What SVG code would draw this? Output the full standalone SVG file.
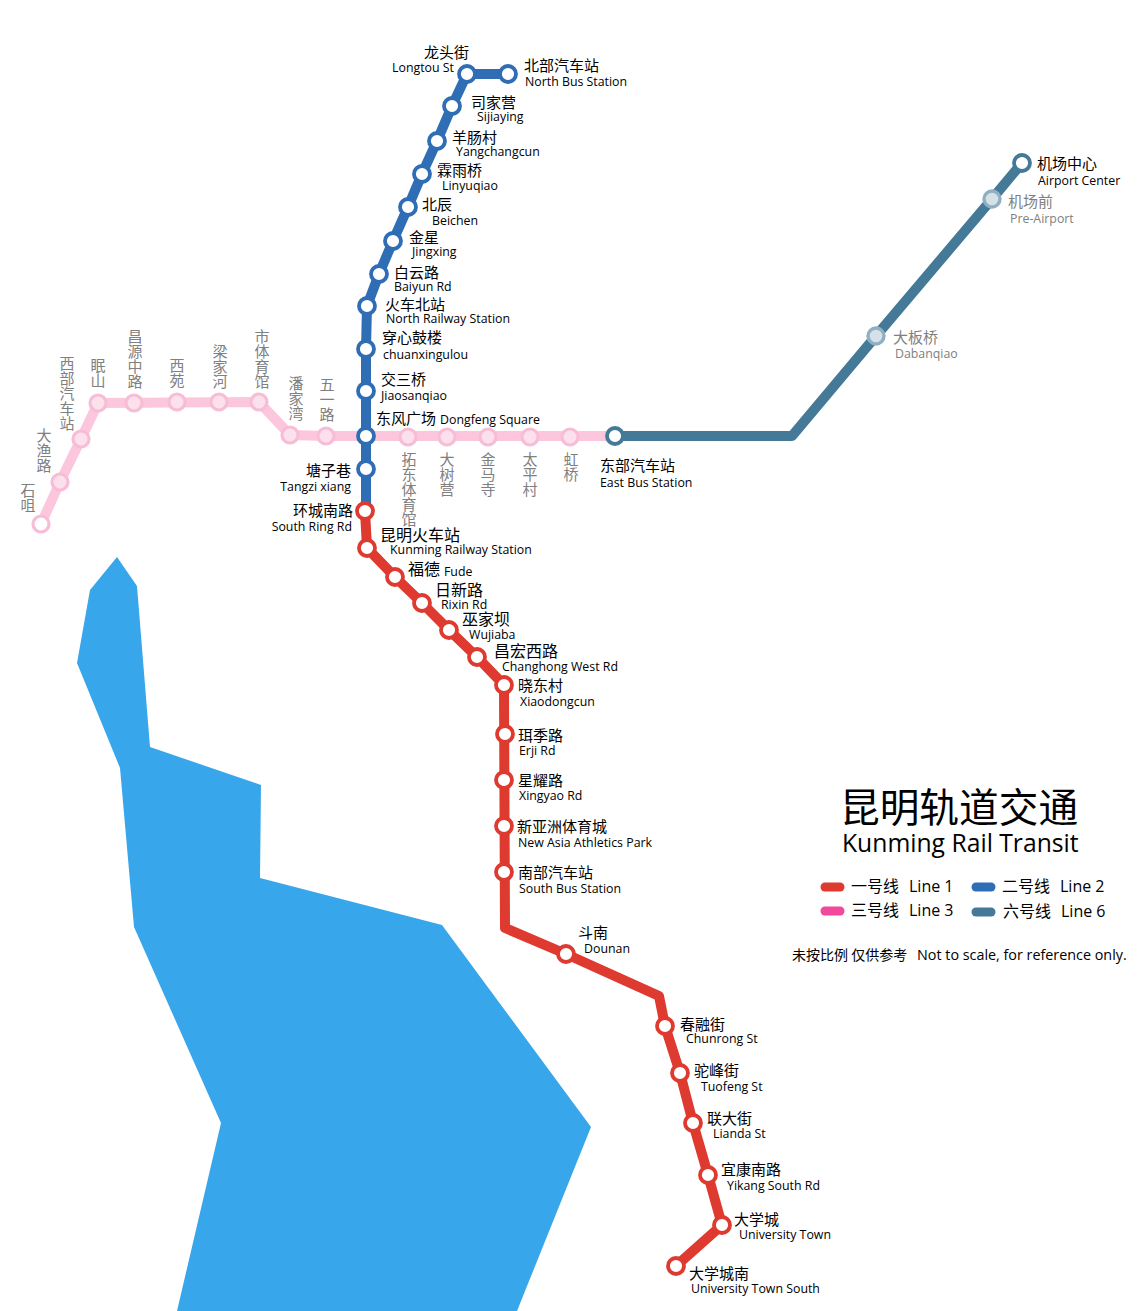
<svg xmlns="http://www.w3.org/2000/svg" width="1146" height="1311" viewBox="0 0 1146 1311">
<style>
text{fill:#000;font-family:"Open Sans","Noto Sans",sans-serif;font-size:12.35px}
.c{font-family:"Noto Sans CJK SC",sans-serif;font-size:15px}
.w{font-size:16px}
.g{fill:#808080}
.v{font-family:"Noto Sans CJK SC",sans-serif;font-size:15px;fill:#808080;writing-mode:vertical-rl;letter-spacing:0}
.l{fill:none;stroke-width:10;stroke-linejoin:round}
.r{fill:#fff;stroke-width:3.8}
.b{stroke:#2f6db5}.d{stroke:#de3a2f}.t{stroke:#447a97}.p{stroke:#fcc6dc}
.rp{fill:#fce1ec;stroke:#f8bdd6;stroke-width:3.2}
.rt{fill:#d5e1e7;stroke:#8fb0c2;stroke-width:3.4}
.k{stroke-width:9;stroke-linecap:round}
.e{text-anchor:end}
.n{font-size:16px}
</style>
<rect width="1146" height="1311" fill="#fff"/>
<polygon id="lake" fill="#38a6eb" points="117,557 137,586 150,747 261,785 260,878 442,925 591,1127 517,1311 177,1311 221,1123 134,927 120,768 77,663 90,590"/>
<g id="connectors">
<polyline class="l p" points="41,524 60,482 81,439 98,403 259,402 290,435 326,436 615,436"/>
<polyline class="l t" points="615,436 792,436 876,336 992,199 1022,163"/>
<polyline class="l b" points="508,74 467,74 452,106 437,141 422,174 408,207 393,241 379,274 367,306 366,349 366,510"/>
<polyline class="l d" points="365,511 367,548 395,577 422,603 449,630 477,657 504,685 505,928 566,954 659,996 665,1026 680,1073 693,1123 708,1175 722,1225 676,1266"/>
</g>
<g id="line3-stations">
<g id="n-shiju"><circle class="rp" style="fill:#fff" cx="41" cy="524" r="8"/><text class="v" x="28" y="483">石咀</text></g>
<g id="n-dayulu"><circle class="rp" cx="60" cy="482" r="8"/><text class="v" x="44" y="428">大渔路</text></g>
<g id="n-xibu"><circle class="rp" cx="81" cy="439" r="8"/><text class="v" x="67" y="356">西部汽车站</text></g>
<g id="n-mianshan"><circle class="rp" cx="98" cy="403" r="8"/><text class="v" x="98" y="358">眠山</text></g>
<g id="n-changyuan"><circle class="rp" cx="134" cy="403" r="8"/><text class="v" x="135" y="329">昌源中路</text></g>
<g id="n-xiyuan"><circle class="rp" cx="177" cy="402" r="8"/><text class="v" x="177" y="358">西苑</text></g>
<g id="n-liangjiahe"><circle class="rp" cx="219" cy="402" r="8"/><text class="v" x="220" y="344">梁家河</text></g>
<g id="n-shitiyu"><circle class="rp" cx="259" cy="402" r="8"/><text class="v" x="262" y="329">市体育馆</text></g>
<g id="n-panjiawan"><circle class="rp" cx="290" cy="435" r="8"/><text class="v" x="296" y="376">潘家湾</text></g>
<g id="n-wuyilu"><circle class="rp" cx="326" cy="436" r="8"/><text class="v" x="327" y="377">五一路</text></g>
<g id="n-tuodong"><circle class="rp" cx="408" cy="437" r="8"/><text class="v" x="409" y="452">拓东体育馆</text></g>
<g id="n-dashuying"><circle class="rp" cx="447" cy="437" r="8"/><text class="v" x="447" y="452">大树营</text></g>
<g id="n-jinmasi"><circle class="rp" cx="488" cy="437" r="8"/><text class="v" x="488" y="452">金马寺</text></g>
<g id="n-taiping"><circle class="rp" cx="530" cy="437" r="8"/><text class="v" x="530" y="452">太平村</text></g>
<g id="n-hongqiao"><circle class="rp" cx="570" cy="437" r="8"/><text class="v" x="571" y="452">虹桥</text></g>
</g>
<g id="line6-stations">
<g id="n-eastbus"><circle class="r t" cx="615" cy="436" r="8"/><text class="c" x="600" y="471">东部汽车站</text><text x="600" y="487">East Bus Station</text></g>
<g id="n-dabanqiao"><circle class="rt" cx="876" cy="336" r="8"/><text class="c g" x="893" y="343">大板桥</text><text class="g" x="895" y="358">Dabanqiao</text></g>
<g id="n-preairport"><circle class="rt" cx="992" cy="199" r="8"/><text class="c g" x="1008" y="207">机场前</text><text class="g" x="1010" y="223">Pre-Airport</text></g>
<g id="n-airport"><circle class="r t" cx="1022" cy="163" r="8"/><text class="c" x="1037" y="169">机场中心</text><text x="1038" y="185">Airport Center</text></g>
</g>
<g id="line2-stations">
<g id="n-northbus"><circle class="r b" cx="508" cy="74" r="8"/><text class="c" x="524" y="71">北部汽车站</text><text x="525" y="86">North Bus Station</text></g>
<g id="n-longtou"><circle class="r b" cx="467" cy="74" r="8"/><text class="c e" x="469" y="58">龙头街</text><text class="e" x="454" y="72">Longtou St</text></g>
<g id="n-sijiaying"><circle class="r b" cx="452" cy="106" r="8"/><text class="c" x="471" y="108">司家营</text><text x="477" y="121">Sijiaying</text></g>
<g id="n-yangchang"><circle class="r b" cx="437" cy="141" r="8"/><text class="c" x="452" y="143">羊肠村</text><text x="456" y="156">Yangchangcun</text></g>
<g id="n-linyuqiao"><circle class="r b" cx="422" cy="174" r="8"/><text class="c" x="437" y="176">霖雨桥</text><text x="442" y="190">Linyuqiao</text></g>
<g id="n-beichen"><circle class="r b" cx="408" cy="207" r="8"/><text class="c" x="422" y="210">北辰</text><text x="432" y="225">Beichen</text></g>
<g id="n-jinxing"><circle class="r b" cx="393" cy="241" r="8"/><text class="c" x="409" y="243">金星</text><text x="412" y="256">Jingxing</text></g>
<g id="n-baiyun"><circle class="r b" cx="379" cy="274" r="8"/><text class="c" x="394" y="278">白云路</text><text x="394" y="291">Baiyun Rd</text></g>
<g id="n-northrail"><circle class="r b" cx="367" cy="306" r="8"/><text class="c" x="385" y="310">火车北站</text><text x="386" y="323">North Railway Station</text></g>
<g id="n-chuanxin"><circle class="r b" cx="366" cy="349" r="8"/><text class="c" x="382" y="343">穿心鼓楼</text><text x="383" y="359">chuanxingulou</text></g>
<g id="n-jiaosan"><circle class="r b" cx="366" cy="391" r="8"/><text class="c" x="381" y="385">交三桥</text><text x="381" y="400">Jiaosanqiao</text></g>
<g id="n-dongfeng"><circle class="r b" cx="366" cy="436" r="8"/><text class="c" x="376" y="424">东风广场</text><text x="440" y="424">Dongfeng Square</text></g>
<g id="n-tangzi"><circle class="r b" cx="366" cy="469" r="8"/><text class="c e" x="351" y="476">塘子巷</text><text class="e" x="351" y="491">Tangzi xiang</text></g>
</g>
<g id="line1-stations">
<g id="n-southring"><circle class="r d" cx="365" cy="511" r="8"/><text class="c e" x="353" y="516">环城南路</text><text class="e" x="352" y="531">South Ring Rd</text></g>
<g id="n-kmrail"><circle class="r d" cx="367" cy="548" r="8"/><text class="c w" x="380" y="541">昆明火车站</text><text x="390" y="554">Kunming Railway Station</text></g>
<g id="n-fude"><circle class="r d" cx="395" cy="577" r="8"/><text class="c w" x="408" y="575">福德</text><text x="444" y="576">Fude</text></g>
<g id="n-rixin"><circle class="r d" cx="422" cy="603" r="8"/><text class="c w" x="435" y="596">日新路</text><text x="441" y="609">Rixin Rd</text></g>
<g id="n-wujiaba"><circle class="r d" cx="449" cy="630" r="8"/><text class="c w" x="462" y="625">巫家坝</text><text x="469" y="639">Wujiaba</text></g>
<g id="n-changhong"><circle class="r d" cx="477" cy="657" r="8"/><text class="c w" x="494" y="657">昌宏西路</text><text x="502" y="671">Changhong West Rd</text></g>
<g id="n-xiaodong"><circle class="r d" cx="504" cy="685" r="8"/><text class="c" x="518" y="691">晓东村</text><text x="520" y="706">Xiaodongcun</text></g>
<g id="n-erji"><circle class="r d" cx="505" cy="734" r="8"/><text class="c" x="518" y="741">珥季路</text><text x="519" y="755">Erji Rd</text></g>
<g id="n-xingyao"><circle class="r d" cx="504" cy="780" r="8"/><text class="c" x="518" y="786">星耀路</text><text x="519" y="800">Xingyao Rd</text></g>
<g id="n-xinya"><circle class="r d" cx="504" cy="826" r="8"/><text class="c" x="517" y="832">新亚洲体育城</text><text x="518" y="847">New Asia Athletics Park</text></g>
<g id="n-southbus"><circle class="r d" cx="504" cy="872" r="8"/><text class="c" x="518" y="878">南部汽车站</text><text x="519" y="893">South Bus Station</text></g>
<g id="n-dounan"><circle class="r d" cx="566" cy="954" r="8"/><text class="c" x="578" y="938">斗南</text><text x="584" y="953">Dounan</text></g>
<g id="n-chunrong"><circle class="r d" cx="665" cy="1026" r="8"/><text class="c" x="680" y="1030">春融街</text><text x="686" y="1043">Chunrong St</text></g>
<g id="n-tuofeng"><circle class="r d" cx="680" cy="1073" r="8"/><text class="c" x="694" y="1076">驼峰街</text><text x="701" y="1091">Tuofeng St</text></g>
<g id="n-lianda"><circle class="r d" cx="693" cy="1123" r="8"/><text class="c" x="707" y="1124">联大街</text><text x="713" y="1138">Lianda St</text></g>
<g id="n-yikang"><circle class="r d" cx="708" cy="1175" r="8"/><text class="c" x="721" y="1175">宜康南路</text><text x="727" y="1190">Yikang South Rd</text></g>
<g id="n-daxue"><circle class="r d" cx="722" cy="1225" r="8"/><text class="c" x="734" y="1225">大学城</text><text x="739" y="1239">University Town</text></g>
<g id="n-daxuenan"><circle class="r d" cx="676" cy="1266" r="8"/><text class="c" x="689" y="1279">大学城南</text><text x="691" y="1293">University Town South</text></g>
</g>
<g id="legend">
<text style="font-family:'Noto Sans CJK SC',sans-serif;font-size:39.7px" x="840" y="822">昆明轨道交通</text>
<text style="font-size:24.7px" x="842" y="852">Kunming Rail Transit</text>
<line class="k" stroke="#de3a2f" x1="825" y1="887" x2="840" y2="887"/>
<line class="k" stroke="#2f6db5" x1="976" y1="887" x2="991" y2="887"/>
<line class="k" stroke="#f4489c" x1="825" y1="911" x2="840" y2="911"/>
<line class="k" stroke="#447a97" x1="976" y1="912" x2="991" y2="912"/>
<text class="c w" x="851" y="892">一号线</text><text class="n" x="909" y="892">Line 1</text>
<text class="c w" x="1002" y="892">二号线</text><text class="n" x="1060" y="892">Line 2</text>
<text class="c w" x="851" y="916">三号线</text><text class="n" x="909" y="916">Line 3</text>
<text class="c w" x="1003" y="917">六号线</text><text class="n" x="1061" y="917">Line 6</text>
<text class="c" style="font-size:14px" x="792" y="960">未按比例 仅供参考</text>
<text style="font-size:14.35px" x="917" y="960">Not to scale, for reference only.</text>
</g>
</svg>
